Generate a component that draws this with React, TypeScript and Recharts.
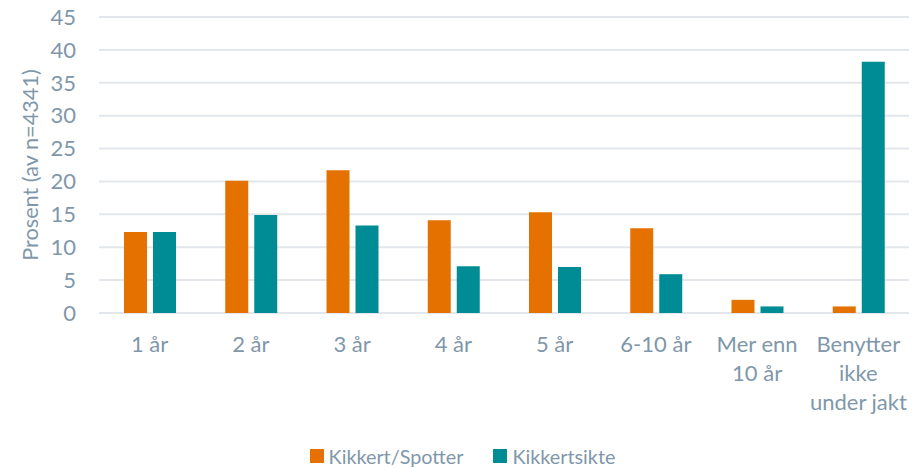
import React from "react";
import { BarChart, Bar, XAxis, YAxis, CartesianGrid, Legend } from "recharts";

const categories = ["1 år", "2 år", "3 år", "4 år", "5 år", "6-10 år", "Mer enn\n10 år", "Benytter\nikke\nunder jakt"];
const kikkertSpotter = [12.3, 20.1, 21.7, 14.1, 15.3, 12.9, 2.0, 1.0];
const kikkertsikte = [12.3, 14.9, 13.3, 7.1, 7.0, 5.9, 1.0, 38.2];
const yTicks = [0, 5, 10, 15, 20, 25, 30, 35, 40, 45];
const seriesNames = ["Kikkert/Spotter", "Kikkertsikte"];
const yLabel = "Prosent (av n=4341)";

const ORANGE = "#E57200";
const TEAL = "#008C94";
const TEXT = "#7F97AA";
const FONT = "Lato, 'Open Sans', sans-serif";

const data = categories.map((c, i) => ({
  name: c,
  a: kikkertSpotter[i],
  b: kikkertsikte[i],
}));

const XTick = (props: any) => {
  const { x, y, payload } = props;
  const lines = String(payload.value).split("\n");
  return (
    <g>
      {lines.map((l: string, i: number) => (
        <text
          key={i}
          x={x}
          y={y + 39 + i * 29}
          textAnchor="middle"
          fill={TEXT}
          fontSize={22}
          fontFamily={FONT}
        >
          {l}
        </text>
      ))}
    </g>
  );
};

const YLabel = () => {
  const cy = 165;
  const cx = 30;
  return (
    <text
      x={cx}
      y={cy}
      transform={`rotate(-90, ${cx}, ${cy})`}
      textAnchor="middle"
      dominantBaseline="central"
      fill={TEXT}
      fontSize={21.7}
      fontFamily={FONT}
    >
      {yLabel}
    </text>
  );
};

const LegendContent = () => {
  const colors = [ORANGE, TEAL];
  return (
    <div
      style={{
        height: 36,
        boxSizing: "border-box",
        paddingTop: 12,
        display: "flex",
        justifyContent: "center",
        alignItems: "flex-start",
        fontFamily: FONT,
        fontSize: 19.8,
        color: TEXT,
        lineHeight: "24px",
        paddingLeft: 16,
      }}
    >
      {seriesNames.map((n, i) => (
        <div key={n} style={{ display: "flex", alignItems: "center", marginRight: i === 0 ? 30 : 0 }}>
          <span style={{ width: 14, height: 14, background: colors[i], display: "inline-block", marginRight: 5 }} />
          <span>{n}</span>
        </div>
      ))}
    </div>
  );
};

export default function App() {
  return (
    <div style={{ position: "absolute", left: 0, top: 0, width: 922, height: 468, background: "#fff" }}>
      <BarChart
        width={922}
        height={468}
        data={data}
        margin={{ top: 17, right: 13, left: 0, bottom: 0 }}
        barSize={23}
        barGap={6}
      >
        <CartesianGrid vertical={false} stroke="#E3E7EB" strokeWidth={2} />
        <XAxis
          dataKey="name"
          axisLine={false}
          tickLine={false}
          tickSize={0}
          tickMargin={0}
          height={119}
          interval={0}
          tick={<XTick />}
        />
        <YAxis
          domain={[0, 45]}
          ticks={yTicks}
          width={99}
          axisLine={false}
          tickLine={false}
          tickSize={0}
          tickMargin={23}
          tick={{ fill: TEXT, fontSize: 22, fontFamily: FONT }}
          label={<YLabel />}
        />
        <Legend verticalAlign="bottom" content={<LegendContent />} />
        <Bar dataKey="a" name={seriesNames[0]} fill={ORANGE} isAnimationActive={false} />
        <Bar dataKey="b" name={seriesNames[1]} fill={TEAL} isAnimationActive={false} />
      </BarChart>
    </div>
  );
}
